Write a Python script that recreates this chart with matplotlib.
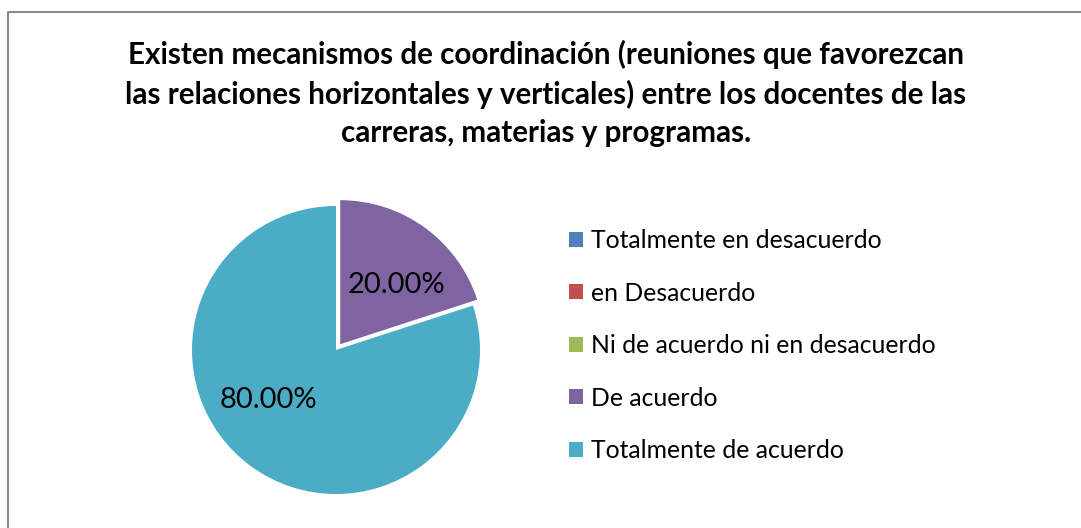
import matplotlib
matplotlib.use("Agg")
import matplotlib.pyplot as plt
from matplotlib.lines import Line2D
import numpy as np

plt.rcParams['font.family'] = ['Lato', 'DejaVu Sans']

title = ("Existen mecanismos de coordinación (reuniones que favorezcan\n"
         "las relaciones horizontales y verticales) entre los docentes de las\n"
         "carreras, materias y programas.")
categories = ["Totalmente en desacuerdo", "en Desacuerdo",
              "Ni de acuerdo ni en desacuerdo", "De acuerdo",
              "Totalmente de acuerdo"]
values = [0.0, 0.0, 0.0, 20.0, 80.0]
colors = ["#4F81BD", "#C0504D", "#9BBB59", "#8064A2", "#4BACC6"]
explode = [0, 0, 0, 0.05, 0]

W, H = 1081, 528
fig = plt.figure(figsize=(W / 100, H / 100), dpi=100)

# border (top and left visible; right/bottom run off the image)
fig.add_artist(Line2D([8 / W, 8 / W, 1.01], [-0.01, 1 - 12 / H, 1 - 12 / H],
                      transform=fig.transFigure, color="#8a8a8a", lw=1.5))

fig.text(546 / W, 1 - 93.5 / H, title, ha="center", va="center",
         fontsize=21.3, fontweight="bold", linespacing=1.45, color="black")

# pie axes: center (336,350) px, radius 144 px
cx, cy, r = 336, 350, 144
half = 160
ax = fig.add_axes([(cx - half) / W, 1 - (cy + half) / H, 2 * half / W, 2 * half / H])

def fmt(p):
    return f"{p:.2f}%" if p > 0 else ""

wedges, texts, autotexts = ax.pie(values, colors=colors, explode=explode,
                                  startangle=90, counterclock=False,
                                  autopct=fmt, pctdistance=0.62,
                                  wedgeprops=dict(linewidth=0),
                                  textprops=dict(fontsize=21, color="black"))
ax.set_aspect("auto")
ax.set_xlim(-half / r, half / r)
ax.set_ylim(-half / r, half / r)
ax.axis("off")

# best-fit style placement of the percentage labels (angle, distance)
label_place = {3: (46.6, 0.565), 4: (216.6, 0.588)}
for i, (a, d) in label_place.items():
    c = wedges[i].center
    t = np.deg2rad(a)
    autotexts[i].set_position((c[0] + d * np.cos(t), c[1] + d * np.sin(t)))

fig.legend(wedges, categories, loc="upper left",
           bbox_to_anchor=(569 / W, 1 - 229 / H), frameon=False,
           fontsize=17.85, handlelength=0.58, handleheight=0.58,
           handletextpad=0.3, labelspacing=1.19, borderpad=0,
           borderaxespad=0)

fig.savefig("out.png", dpi=100)
